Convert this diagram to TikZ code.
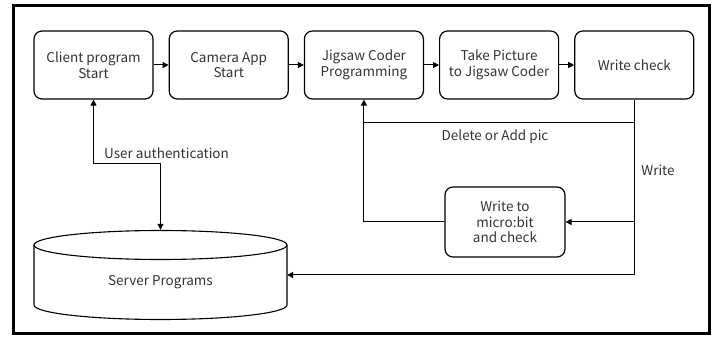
\documentclass[tikz,border=0pt]{standalone}
\usepackage{fontspec}
\setmainfont{Noto Sans CJK JP}
\usetikzlibrary{positioning,arrows.meta}
\definecolor{txtgray}{HTML}{333333}
\begin{document}
\begin{tikzpicture}[
  x=1pt, y=-1pt,
  block/.style={rectangle, rounded corners=8pt, draw, line width=1.2pt, minimum width=119pt, minimum height=68pt, font=\fontsize{13.5}{15.5}\selectfont, text=txtgray, align=center, inner sep=2pt},
  store/.style={rectangle, minimum width=253pt, minimum height=90pt, inner sep=0pt},
  link/.style={line width=1pt},
  arrow/.style={link, -{Triangle[length=6pt,width=6pt]}},
  lbl/.style={font=\fontsize{13.5}{15.5}\selectfont, text=txtgray, inner sep=0pt},
  node distance=15pt
]
\useasboundingbox (0,0) rectangle (716,339);
\draw[line width=3pt] (13,6) rectangle (709,334);

\node[block] (client) at (93.5,65) {Client program\\Start};
\node[block, right=of client] (camera) {Camera App\\Start};
\node[block, right=of camera] (coder) {Jigsaw Coder\\Programming};
\node[block, right=of coder] (picture) {Take Picture\\to Jigsaw Coder};
\node[block, right=of picture] (check) {Write check};
\node[block, minimum width=120pt, minimum height=70pt] (microbit) at (505,222) {Write to\\micro:bit\\and check};

% Server drum
\node[store] (server) at (160.5,275) {};
\draw[line width=1.1pt] (server.center |- 0,245) ellipse [x radius=126.5pt, y radius=14.5pt];
\draw[line width=1.1pt] (34,245) -- (34,305) arc[start angle=180, end angle=360, x radius=126.5pt, y radius=14.5pt] -- (287,245);
\node[lbl] (srvname) at (160.5,282) {Server Programs};

% Arrows
\draw[arrow] (client) -- (camera);
\draw[arrow] (camera) -- (coder);
\draw[arrow] (coder) -- (picture);
\draw[arrow] (picture) -- (check);

% Loops back to the coder
\draw[link] (check.south) |- (coder.south |- 0,123);
\draw[arrow] (microbit.west) -| (coder.south);
\draw[arrow] (check.south) |- (server.east);
\draw[arrow] (check.south |- microbit.east) -- (microbit.east);
\draw[{Triangle[length=6pt,width=6pt]}-{Triangle[length=6pt,width=6pt]}, link] (client.south) -- ++(0,64) -| (server.north);

% Labels
\node[lbl, anchor=west] at (104,153) {User authentication};
\node[lbl] at (495,137) {Delete or Add pic};
\node[lbl] at (658,170) {Write};

\end{tikzpicture}
\end{document}
